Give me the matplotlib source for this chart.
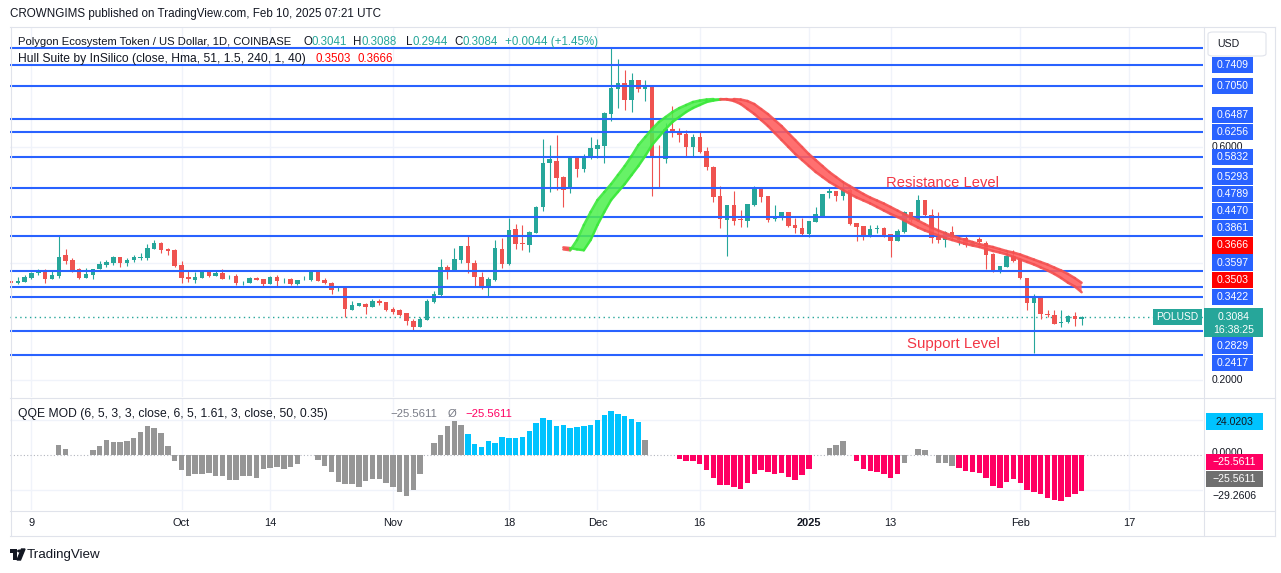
"""POL/USD daily chart (TradingView style) with Hull Suite band and QQE MOD pane."""

import matplotlib
matplotlib.use('Agg')  # Non-interactive backend
import matplotlib.pyplot as plt
import matplotlib.dates as mdates
from matplotlib.patches import Rectangle, FancyBboxPatch, Polygon, Circle
from matplotlib.collections import LineCollection
from matplotlib.lines import Line2D
import numpy as np
import pandas as pd

plt.rcParams['font.family'] = ['Liberation Sans', 'DejaVu Sans']

W, H = 1281, 573

# ---- values --------------------------------------------------------------
FIRST_DAY = '2024-09-06'

opens = [
    0.3700, 0.3656, 0.3685, 0.3754, 0.3828, 0.3886, 0.3737, 0.3788, 0.4149, 0.4057,
    0.3903, 0.3754, 0.3805, 0.3908, 0.3977, 0.4012, 0.4109, 0.4000, 0.4057, 0.4095,
    0.4097, 0.4252, 0.4350, 0.4246, 0.4229, 0.3971, 0.3765, 0.3714, 0.3754, 0.3857,
    0.3788, 0.3840, 0.3757, 0.3782, 0.3688, 0.3668, 0.3748, 0.3731, 0.3651, 0.3765,
    0.3725, 0.3731, 0.3651, 0.3725, 0.3714, 0.3874, 0.3714, 0.3657, 0.3568, 0.3576,
    0.3198, 0.3267, 0.3301, 0.3255, 0.3358, 0.3336, 0.3221, 0.3198, 0.3147, 0.3009,
    0.2912, 0.3032, 0.3341, 0.3456, 0.3937, 0.3863, 0.4063, 0.4298, 0.4012, 0.3765,
    0.3582, 0.3714, 0.4247, 0.3983, 0.4590, 0.4357, 0.4323, 0.4529, 0.4965, 0.5721,
    0.5761, 0.5492, 0.5274, 0.5818, 0.5623, 0.5847, 0.5973, 0.6025, 0.6575, 0.7005,
    0.7102, 0.6810, 0.7148, 0.7005, 0.7027, 0.5836, 0.5801, 0.6311, 0.6265, 0.6219,
    0.6007, 0.6174, 0.5933, 0.5664, 0.5159, 0.4746, 0.5004, 0.4748, 0.4735, 0.5004,
    0.5279, 0.5159, 0.4758, 0.4804, 0.4884, 0.4660, 0.4615, 0.4506, 0.4718, 0.4821,
    0.5205, 0.5245, 0.5159, 0.5262, 0.4689, 0.4643, 0.4483, 0.4586, 0.4615, 0.4506,
    0.4390, 0.4545, 0.4889, 0.4734, 0.5089, 0.4831, 0.4459, 0.4402, 0.4545, 0.4402,
    0.4442, 0.4321, 0.4413, 0.4356, 0.4161, 0.3875, 0.3943, 0.4127, 0.4069, 0.3743,
    0.3325, 0.3428, 0.3124, 0.3107, 0.2969, 0.2986, 0.3095, 0.3041,
]
highs = [
    0.3710, 0.3759, 0.3800, 0.3857, 0.3903, 0.3897, 0.3874, 0.4476, 0.4241, 0.4086,
    0.3926, 0.3914, 0.3910, 0.4034, 0.4057, 0.4126, 0.4115, 0.4097, 0.4143, 0.4172,
    0.4332, 0.4401, 0.4360, 0.4264, 0.4240, 0.4046, 0.3886, 0.3857, 0.3860, 0.3860,
    0.3863, 0.3897, 0.3800, 0.3811, 0.3694, 0.3760, 0.3760, 0.3735, 0.3783, 0.3794,
    0.3754, 0.3754, 0.3720, 0.3783, 0.3870, 0.3891, 0.3754, 0.3680, 0.3611, 0.3580,
    0.3358, 0.3320, 0.3313, 0.3387, 0.3381, 0.3340, 0.3244, 0.3215, 0.3150, 0.3049,
    0.3078, 0.3381, 0.3531, 0.4075, 0.3966, 0.4258, 0.4300, 0.4487, 0.4057, 0.3857,
    0.3771, 0.4401, 0.4430, 0.4774, 0.4678, 0.4655, 0.4550, 0.4988, 0.6139, 0.6030,
    0.6202, 0.5500, 0.5836, 0.5820, 0.5881, 0.6179, 0.6139, 0.6600, 0.7698, 0.7509,
    0.7325, 0.7268, 0.7160, 0.7153, 0.7050, 0.6036, 0.6408, 0.6706, 0.6323, 0.6294,
    0.6219, 0.6282, 0.6007, 0.5670, 0.5331, 0.5010, 0.5245, 0.4918, 0.5020, 0.5337,
    0.5308, 0.5160, 0.5004, 0.4890, 0.4890, 0.4775, 0.4775, 0.4730, 0.4964, 0.5200,
    0.5302, 0.5250, 0.5405, 0.5291, 0.4690, 0.4650, 0.4660, 0.4660, 0.4620, 0.4510,
    0.4585, 0.4906, 0.4890, 0.5175, 0.5090, 0.4935, 0.4877, 0.4550, 0.4648, 0.4488,
    0.4488, 0.4390, 0.4459, 0.4390, 0.4170, 0.3960, 0.4213, 0.4230, 0.4086, 0.3750,
    0.3473, 0.3430, 0.3198, 0.3198, 0.3198, 0.3113, 0.3170, 0.3088,
]
lows = [
    0.3650, 0.3650, 0.3680, 0.3731, 0.3800, 0.3668, 0.3730, 0.3754, 0.3983, 0.3857,
    0.3737, 0.3742, 0.3737, 0.3900, 0.3943, 0.3977, 0.3943, 0.3960, 0.4029, 0.4057,
    0.4057, 0.4250, 0.4172, 0.4149, 0.3943, 0.3668, 0.3679, 0.3668, 0.3750, 0.3771,
    0.3780, 0.3730, 0.3725, 0.3622, 0.3622, 0.3660, 0.3710, 0.3611, 0.3650, 0.3616,
    0.3662, 0.3622, 0.3622, 0.3720, 0.3691, 0.3700, 0.3645, 0.3479, 0.3531, 0.3084,
    0.3190, 0.3260, 0.3129, 0.3250, 0.3284, 0.3181, 0.3129, 0.3095, 0.2946, 0.2860,
    0.2910, 0.3030, 0.3313, 0.3427, 0.3737, 0.3860, 0.4000, 0.3828, 0.3616, 0.3553,
    0.3427, 0.3697, 0.3926, 0.3970, 0.4248, 0.4231, 0.4203, 0.4520, 0.4907, 0.5234,
    0.5262, 0.4976, 0.5217, 0.5492, 0.5566, 0.5790, 0.5807, 0.5721, 0.6443, 0.6666,
    0.6638, 0.6609, 0.6953, 0.6798, 0.5159, 0.5291, 0.5721, 0.6179, 0.6093, 0.5853,
    0.5847, 0.5893, 0.5606, 0.5062, 0.4603, 0.4133, 0.4660, 0.4632, 0.4632, 0.4990,
    0.5061, 0.4718, 0.4729, 0.4746, 0.4620, 0.4517, 0.4490, 0.4460, 0.4712, 0.4804,
    0.5130, 0.5073, 0.5090, 0.4660, 0.4391, 0.4403, 0.4460, 0.4529, 0.4449, 0.4116,
    0.4380, 0.4528, 0.4717, 0.4720, 0.4803, 0.4356, 0.4344, 0.4287, 0.4402, 0.4316,
    0.4276, 0.4304, 0.4356, 0.3903, 0.3857, 0.3840, 0.3932, 0.4029, 0.3726, 0.3198,
    0.2465, 0.3038, 0.3084, 0.2960, 0.2912, 0.2969, 0.2923, 0.2944,
]
closes = [
    0.3660, 0.3696, 0.3771, 0.3840, 0.3886, 0.3737, 0.3800, 0.4109, 0.4046, 0.3886,
    0.3748, 0.3817, 0.3903, 0.3994, 0.4023, 0.4109, 0.4012, 0.4057, 0.4109, 0.4100,
    0.4258, 0.4344, 0.4235, 0.4218, 0.3960, 0.3754, 0.3731, 0.3765, 0.3857, 0.3788,
    0.3834, 0.3737, 0.3762, 0.3668, 0.3692, 0.3748, 0.3714, 0.3651, 0.3765, 0.3697,
    0.3730, 0.3651, 0.3714, 0.3731, 0.3863, 0.3702, 0.3662, 0.3542, 0.3572, 0.3221,
    0.3278, 0.3318, 0.3255, 0.3358, 0.3324, 0.3198, 0.3164, 0.3118, 0.3003, 0.2906,
    0.3043, 0.3358, 0.3467, 0.3937, 0.3863, 0.4075, 0.4298, 0.4012, 0.3771, 0.3582,
    0.3731, 0.4258, 0.3989, 0.4573, 0.4329, 0.4334, 0.4541, 0.4976, 0.5721, 0.5790,
    0.5475, 0.5263, 0.5818, 0.5623, 0.5853, 0.5990, 0.6036, 0.6586, 0.7010, 0.7096,
    0.6810, 0.7153, 0.7005, 0.7045, 0.5824, 0.5813, 0.6311, 0.6248, 0.6208, 0.6007,
    0.6174, 0.5921, 0.5664, 0.5148, 0.4758, 0.5004, 0.4735, 0.4743, 0.5016, 0.5302,
    0.5147, 0.4746, 0.4804, 0.4884, 0.4643, 0.4603, 0.4500, 0.4729, 0.4849, 0.5193,
    0.5245, 0.5159, 0.5262, 0.4677, 0.4632, 0.4483, 0.4586, 0.4615, 0.4483, 0.4391,
    0.4562, 0.4889, 0.4746, 0.5089, 0.4831, 0.4442, 0.4402, 0.4545, 0.4430, 0.4430,
    0.4316, 0.4356, 0.4373, 0.4144, 0.3875, 0.3955, 0.4127, 0.4046, 0.3743, 0.3325,
    0.3428, 0.3124, 0.3107, 0.2963, 0.2998, 0.3095, 0.3038, 0.3084,
]

# Hull Suite (MHULL); SHULL is the same line two bars back
HULL_FIRST_DAY = '2024-11-24'
hull = [
    0.4275, 0.4262, 0.4240, 0.4225, 0.4401, 0.4659, 0.4883, 0.5089, 0.5227, 0.5364,
    0.5519, 0.5674, 0.5846, 0.6035, 0.6173, 0.6310, 0.6431, 0.6517, 0.6603, 0.6671,
    0.6723, 0.6775, 0.6800, 0.6818, 0.6826, 0.6826, 0.6818, 0.6792, 0.6740, 0.6654,
    0.6568, 0.6465, 0.6362, 0.6241, 0.6121, 0.6001, 0.5880, 0.5777, 0.5674, 0.5571,
    0.5485, 0.5399, 0.5330, 0.5261, 0.5193, 0.5132, 0.5081, 0.5029, 0.4969, 0.4908,
    0.4848, 0.4797, 0.4737, 0.4676, 0.4616, 0.4565, 0.4521, 0.4478, 0.4435, 0.4401,
    0.4367, 0.4332, 0.4306, 0.4281, 0.4246, 0.4212, 0.4186, 0.4152, 0.4109, 0.4066,
    0.4023, 0.3980, 0.3928, 0.3877, 0.3817, 0.3747, 0.3666, 0.3601, 0.3503,
]

# QQE MOD histogram, one value per candle (None = no bar drawn)
N = None
qqe_hist = (
    [N] * 7 + [7.4, 4.5] + [N] * 3
    + [3.8, 6.6, 10.9, 9.5, 9.5, 10.5, 12.4, 16.6, 20.9, 19.3, 15.9, 6.4]
    + [-3.8, -10.7, -14.5, -13.4, -13.6, -12.6, -14.5, -14.5, -17.4, -17.9,
       -15.0, -14.5, -15.9, -9.8, -9.3, -8.1, -9.8, -8.1, -5.9]
    + [N] * 2
    + [-3.1, -7.9, -12.1, -19.1, -20.7, -20.7, -22.4, -18.4, -16.6, -16.6,
       -20.0, -22.6, -25.9, -28.8, -25.0, -13.1]
    + [N]
    + [8.6, 14.3, 20.9, 24.5, 21.6]
    + [15.0, 8.1, 6.2, 10.2, 8.8, 13.1, 12.4, 12.1, 13.1, 17.4, 23.1, 26.4, 25.2,
       20.9, 21.6, 19.3, 20.0, 20.7, 21.6, 25.2, 28.8, 31.6, 29.8, 28.1, 26.2, 24.1]
    + [11.2] + [N] * 4
    + [-3.0, -3.8, -3.8, -6.2, -10.5, -16.0, -21.2, -21.2, -22.6, -24.0,
       -19.5, -13.3, -10.5, -12.1, -13.3, -12.6, -15.2, -17.4, -14.0, -9.8]
    + [N] * 2 + [5.0, 7.4, 10.2] + [N]
    + [-3.8, -9.8, -11.2, -11.9, -13.3, -16.0, -13.3]
    + [-5.5] + [N] + [4.5, 3.8] + [N] + [-5.5, -5.5, -7.9]
    + [-9.3, -11.2, -11.9, -12.6, -16.0, -21.7, -23.3, -19.0, -16.9, -19.8,
       -24.8, -26.4, -27.9, -30.2, -31.9, -32.6, -29.5, -27.6, -25.5611]
)
# g = grey, c = cyan (strong up), p = pink (strong down)
qqe_kind = (
    '.' * 7 + 'gg' + '...' + 'g' * 12 + 'g' * 19 + '..' + 'g' * 16 + '.'
    + 'g' * 5 + 'c' * 26 + 'g' + '....' + 'p' * 20 + '..' + 'ggg' + '.'
    + 'p' * 7 + 'g' + '.' + 'gg' + '.' + 'ggg' + 'p' * 19
)

levels = [0.7700, 0.7409, 0.7050, 0.6487, 0.6256, 0.5832, 0.5293, 0.4789,
          0.4470, 0.3861, 0.3597, 0.3422, 0.2829, 0.2417]
labelled_levels = levels[1:]          # the top level's tag sits under the USD button
price_ticks = [0.2, 0.4, 0.6]
shown_price_ticks = [0.2, 0.6]        # 0.4000 is covered by the 0.3597 tag
hull_fast_last, hull_slow_last = 0.3503, 0.3666
countdown = '16:38:25'

qqe_line_last = 24.0203
qqe_hist_last = -25.5611
qqe_trend_last = -25.5611
qqe_band_last = -29.2606

tick_days = ['2024-09-09', '2024-10-01', '2024-10-14', '2024-11-01', '2024-11-18',
             '2024-12-01', '2024-12-16', '2025-01-01', '2025-01-13', '2025-02-01',
             '2025-02-17']
tick_labels = ['9', 'Oct', '14', 'Nov', '18', 'Dec', '16', '2025', '13', 'Feb', '17']

assert len(opens) == len(highs) == len(lows) == len(closes) == len(qqe_hist) == len(qqe_kind)

# ---- colours -------------------------------------------------------------
UP, DOWN = '#26a69a', '#ef5350'
BLUE = '#2962ff'
TXT = '#131722'
GRID = '#f0f3fa'
BORDER = '#e0e3eb'
CYAN, PINK, GREY = '#00c3ff', '#ff0062', '#969696'
LABEL_RED = '#f23645'


def fxy(px, py):
    """Image pixel (top-left origin) -> figure fraction."""
    return px / W, 1 - py / H


def fig_line(x0, y0, x1, y1, color=BORDER, lw=0.8):
    a, b = fxy(x0, y0)
    c, d = fxy(x1, y1)
    fig.add_artist(Line2D([a, c], [b, d], color=color, lw=lw, transform=fig.transFigure, zorder=8))


def fig_box(x0, y0, w, h, color, z=10):
    a, b = fxy(x0, y0 + h)
    fig.add_artist(Rectangle((a, b), w / W, h / H, transform=fig.transFigure,
                             facecolor=color, edgecolor='none', zorder=z))


def fig_text(px, py, s, **kw):
    kw.setdefault('va', 'center')
    kw.setdefault('fontsize', 7.6)
    kw.setdefault('color', TXT)
    kw.setdefault('zorder', 11)
    a, b = fxy(px, py)
    return fig.text(a, b, s, **kw)


def put_segments(x, y, parts, size):
    """Draw coloured pieces one after another starting at pixel x."""
    r = fig.canvas.get_renderer()
    for text, color in parts:
        t = fig_text(x, y, text, color=color, fontsize=size, ha='left')
        x += t.get_window_extent(r).width


def py_of(axis, value):
    return H - axis.transData.transform((0, value))[1]


def stack(items, anchor):
    """Push overlapping axis labels apart, keeping the anchor label in place."""
    pos = [it['y'] for it in items]
    for k in range(anchor - 1, -1, -1):
        pos[k] = min(items[k]['y'], pos[k + 1] - items[k]['below'] - items[k + 1]['above'])
    for k in range(anchor + 1, len(items)):
        pos[k] = max(items[k]['y'], pos[k - 1] + items[k - 1]['below'] + items[k]['above'])
    return pos


# ---- figure and panes ----------------------------------------------------
fig = plt.figure(figsize=(W / 100, H / 100), dpi=100)
fig.patch.set_facecolor('white')
ax = fig.add_axes([10 / W, 1 - 397 / H, 1193 / W, 370 / H])
ax2 = fig.add_axes([10 / W, 1 - 510 / H, 1193 / W, 112 / H])

days = mdates.date2num(pd.date_range(FIRST_DAY, periods=len(opens), freq='D'))
o, hi, lo, c = (np.array(v) for v in (opens, highs, lows, closes))
up = c >= o
ccol = np.where(up, UP, DOWN)

for a in (ax, ax2):
    a.set_xlim(days[0] - 0.15, days[-1] + 17.8)
    a.set_xticks([])
    a.set_yticks([])
    for s in a.spines.values():
        s.set_visible(False)
    for d in mdates.date2num(pd.to_datetime(tick_days)):
        a.axvline(d, color=GRID, lw=1, zorder=0)
ax.set_ylim(0.1701, 0.8065)
ax2.set_ylim(-39.07, 40.9)

# price pane
for p in price_ticks:
    ax.axhline(p, color=GRID, lw=1, zorder=0)
ax.axhline(closes[-1], color=UP, lw=1, ls=(0, (1, 2.5)), zorder=1)
ax.vlines(days, lo, hi, colors=ccol, lw=0.8, zorder=2)
ax.bar(days, np.maximum(np.abs(c - o), 0.0012), bottom=np.minimum(o, c), width=0.66,
       color=ccol, lw=0, zorder=2.1)
for lv in levels:
    ax.axhline(lv, color=BLUE, lw=1.5, zorder=3)

hd = mdates.date2num(pd.date_range(HULL_FIRST_DAY, periods=len(hull), freq='D'))
hv = np.array(hull)
mh, sh, hx = hv[2:], hv[:-2], hd[2:]
rising = mh >= sh
ax.fill_between(hx, mh, sh, where=rising, interpolate=True, color='#4cf04c', alpha=0.85, lw=0, zorder=4)
ax.fill_between(hx, mh, sh, where=~rising, interpolate=True, color='#ff5c5c', alpha=0.88, lw=0, zorder=4)
seg_cols = np.where(rising[1:], '#3be83b', '#f45050')
for line in (mh, sh):
    pts = np.column_stack([hx, line])
    segs = np.stack([pts[:-1], pts[1:]], axis=1)
    ax.add_collection(LineCollection(segs, colors=seg_cols, lw=1.8, alpha=0.9,
                                     capstyle='round', zorder=4.1))

# QQE pane
for g in (-25, 25):
    ax2.axhline(g, color=GRID, lw=1, zorder=0)
ax2.axhline(0, color='#b2b5be', lw=0.8, ls=(0, (1, 2)), zorder=1)
qcol = {'g': GREY, 'c': CYAN, 'p': PINK}
qx = [d for d, v in zip(days, qqe_hist) if v is not None]
qv = [v for v in qqe_hist if v is not None]
qc = [qcol[k] for k, v in zip(qqe_kind, qqe_hist) if v is not None]
ax2.bar(qx, qv, width=0.8, color=qc, lw=0, zorder=2)

# ---- frame ----------------------------------------------------------------
fig_line(10, 26.5, 1275, 26.5)
fig_line(10, 397.5, 1275, 397.5)
fig_line(10, 510.5, 1275, 510.5)
fig_line(10, 536, 1275, 536)
fig_line(10.5, 26.5, 10.5, 536)
fig_line(1203.5, 26.5, 1203.5, 536)
fig_line(1275, 26.5, 1275, 536)

# ---- texts ------------------------------------------------------------------
fig_text(10, 14, 'CROWNGIMS published on TradingView.com, Feb 10, 2025 07:21 UTC', fontsize=8.4, ha='left')
fig_text(18, 42, 'Polygon Ecosystem Token / US Dollar, 1D, COINBASE', fontsize=8.1, ha='left')
for x0, key, val in ((303, 'O', opens[-1]), (353, 'H', highs[-1]),
                     (406, 'L', lows[-1]), (454, 'C', closes[-1])):
    put_segments(x0, 42, [(key, TXT), (f'{val:.4f}', UP)], 8.3)
fig_text(505, 42, '+0.0044 (+1.45%)', fontsize=8.3, ha='left', color=UP)

fig_text(18, 59, 'Hull Suite by InSilico (close, Hma, 51, 1.5, 240, 1, 40)', fontsize=8.7, ha='left')
fig_text(315, 59, f'{hull_fast_last:.4f}', fontsize=8.3, ha='left', color='#ff0000')
fig_text(358, 59, f'{hull_slow_last:.4f}', fontsize=8.3, ha='left', color='#ff0000')

fig_text(886, 183.5, 'Resistance Level', fontsize=10.6, color=LABEL_RED, ha='left')
fig_text(907, 344, 'Support Level', fontsize=10.8, color=LABEL_RED, ha='left')

fig_text(18, 414, 'QQE MOD (6, 5, 3, 3, close, 6, 5, 1.61, 3, close, 50, 0.35)', fontsize=8.7, ha='left')
fig_text(390, 414, f'\u2212{abs(qqe_trend_last):.4f}', fontsize=8.2, ha='left', color='#787b86')
fig_text(448, 414, '\u00d8', fontsize=8.2, ha='left', color='#787b86')
fig_text(465, 414, f'\u2212{abs(qqe_hist_last):.4f}', fontsize=8.2, ha='left', color=PINK)

# time axis
for d, t in zip(mdates.date2num(pd.to_datetime(tick_days)), tick_labels):
    px = ax.transData.transform((d, 0.3))[0]
    fig_text(px, 523, t, fontsize=7.9, ha='center', fontweight='bold' if t == '2025' else 'normal')

# price scale: plain ticks under the labels
for p in shown_price_ticks:
    fig_text(1212, py_of(ax, p), f'{p:.4f}', fontsize=7.4, ha='left', zorder=9)

items = [dict(v=v, y=py_of(ax, v), kind='blue', above=8.6, below=8.6) for v in labelled_levels]
items += [dict(v=hull_slow_last, y=py_of(ax, hull_slow_last), kind='red', above=8.6, below=8.6),
          dict(v=hull_fast_last, y=py_of(ax, hull_fast_last), kind='red', above=8.6, below=8.6),
          dict(v=closes[-1], y=py_of(ax, closes[-1]), kind='last', above=8.6, below=20.4)]
items.sort(key=lambda it: it['y'])
anchor = [i for i, it in enumerate(items) if it['kind'] == 'last'][0]
for it, y in zip(items, stack(items, anchor)):
    if it['kind'] == 'last':
        fig_box(1204, y - 8.2, 59, 28.4, UP)
        fig_text(1233.5, y, f"{it['v']:.4f}", color='white', fontsize=7.6, ha='center')
        fig_text(1233.5, y + 13.5, countdown, color='white', fontsize=7.6, ha='center')
        fig_box(1153, y - 8, 49, 16, UP)
        fig_text(1177.5, y, 'POLUSD', color='white', fontsize=7.4, ha='center')
    else:
        fig_box(1212, y - 8.2, 41, 16.4, BLUE if it['kind'] == 'blue' else '#ff0000')
        fig_text(1232.5, y, f"{it['v']:.4f}", color='white', fontsize=7.6, ha='center')

# USD button
ux, uy = fxy(1208, 56)
fig.add_artist(FancyBboxPatch((ux, uy), 58 / W, 24 / H, boxstyle='round,pad=0,rounding_size=0.004',
                              transform=fig.transFigure, facecolor='white', edgecolor=BORDER,
                              lw=0.8, zorder=12))
fig_text(1217, 44, 'USD', fontsize=7.6, ha='left', zorder=13)

# QQE scale
fig_text(1212, py_of(ax2, 0) - 2, '0.0000', fontsize=7.4, ha='left', zorder=9)
qitems = [dict(v=qqe_line_last, y=py_of(ax2, qqe_line_last), face=CYAN, tc=TXT, above=8.6, below=8.6),
          dict(v=qqe_hist_last, y=py_of(ax2, qqe_hist_last), face=PINK, tc='white', above=8.6, below=8.6),
          dict(v=qqe_trend_last, y=py_of(ax2, qqe_trend_last), face='#6f6f6f', tc='white', above=8.6, below=8.6),
          dict(v=qqe_band_last, y=py_of(ax2, qqe_band_last), face=None, tc=TXT, above=8.6, below=8.6)]
for it, y in zip(qitems, stack(qitems, len(qitems) - 1)):
    s = f"{it['v']:.4f}".replace('-', '\u2212')
    if it['face']:
        fig_box(1206, y - 8.2, 57, 16.4, it['face'])
    fig_text(1234.5, y, s, color=it['tc'], fontsize=7.6, ha='center')

# TradingView logo
fig_box(10, 549, 7, 3.5, TXT, z=12)
fig_box(13.2, 549, 3.5, 11, TXT, z=12)
cx, cy = fxy(19.6, 551)
fig.add_artist(Circle((cx, cy), 1.8 / W, transform=fig.transFigure, color=TXT, zorder=12))
fig.add_artist(Polygon([fxy(21.5, 549), fxy(25, 549), fxy(20.5, 560), fxy(17, 560)],
                       closed=True, transform=fig.transFigure, color=TXT, zorder=12))
fig_text(27, 555, 'TradingView', fontsize=9.6, ha='left')

fig.savefig('out.png', dpi=100, facecolor='white')
